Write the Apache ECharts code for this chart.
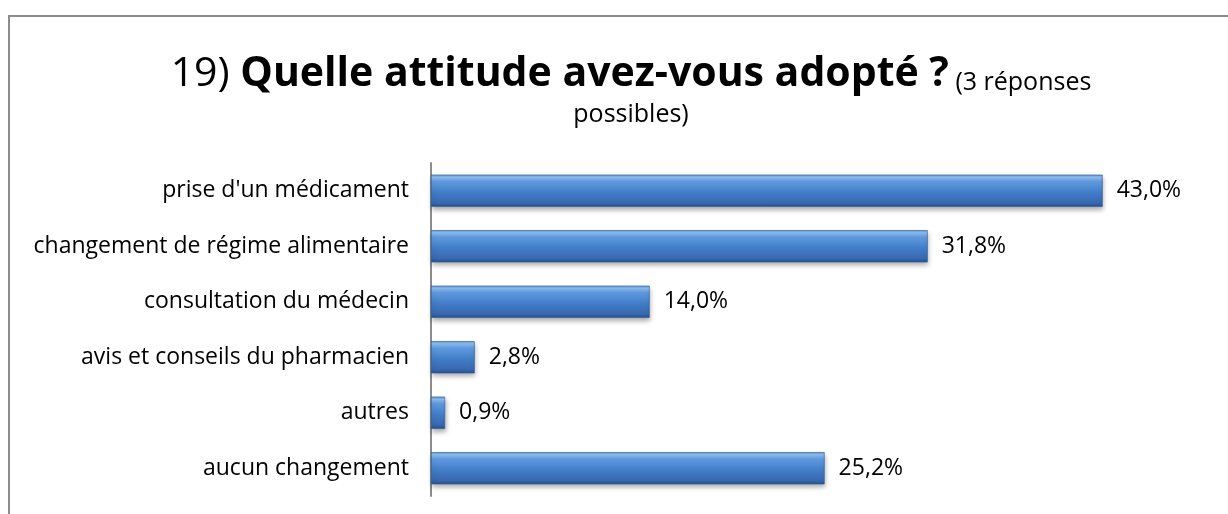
<!DOCTYPE html>
<html>
<head>
<meta charset="utf-8">
<script src="https://cdn.jsdelivr.net/npm/echarts@6/dist/echarts.min.js"></script>
<style>
  html, body { margin: 0; padding: 0; background: #ffffff; }
  #frame { position: absolute; left: 8px; top: 15px; width: 1240px; height: 520px;
           border-left: 2px solid #8c8c8c; border-top: 2px solid #8c8c8c; box-sizing: border-box; }
  #chart { position: absolute; left: 0; top: 0; width: 1228px; height: 514px; }
</style>
</head>
<body>
<div id="frame"></div>
<div id="chart"></div>
<script>
// Categories, listed bottom-to-top as the category axis draws them
const categories = [
  'aucun changement',
  'autres',
  'avis et conseils du pharmacien',
  'consultation du médecin',
  'changement de régime alimentaire',
  "prise d'un médicament"
];
// Share of respondents (%)
const values = [25.2, 0.9, 2.8, 14.0, 31.8, 43.0];

const FONT = '"Open Sans", Lato, sans-serif';

const chart = echarts.init(document.getElementById('chart'), null, { renderer: 'canvas' });

const barFill = new echarts.graphic.LinearGradient(0, 0, 0, 1, [
  { offset: 0.00, color: '#5a92d8' },
  { offset: 0.08, color: '#8fc0f2' },
  { offset: 0.22, color: '#5f9ae0' },
  { offset: 0.55, color: '#427ec8' },
  { offset: 0.88, color: '#3768b0' },
  { offset: 1.00, color: '#27508a' }
]);

chart.setOption({
  backgroundColor: 'transparent',
  animation: false,
  title: {
    left: 626,
    textAlign: 'center',
    top: 38,
    text: '{a|19) }{b|Quelle attitude avez-vous adopté ?}{c| (3 réponses}\n{c|possibles)}',
    textStyle: {
      fontWeight: 'normal',
      rich: {
        a: { fontFamily: FONT, fontSize: 41, fontWeight: 'normal', color: '#000', lineHeight: 52, verticalAlign: 'bottom' },
        b: { fontFamily: FONT, fontSize: 41, fontWeight: 'bold', color: '#000', lineHeight: 52, verticalAlign: 'bottom' },
        c: { fontFamily: FONT, fontSize: 25, fontWeight: 'normal', color: '#000', lineHeight: 32, verticalAlign: 'bottom' }
      }
    }
  },
  grid: { left: 431, top: 163, width: 781, height: 333, containLabel: false },
  xAxis: {
    type: 'value',
    min: 0,
    max: 50,
    show: false
  },
  yAxis: {
    type: 'category',
    data: categories,
    axisLine: { show: true, lineStyle: { color: '#8c8c8c', width: 2 } },
    axisTick: { show: false },
    axisLabel: { fontFamily: FONT, fontSize: 23, color: '#000', margin: 22 }
  },
  series: [{
    type: 'bar',
    data: values,
    barCategoryGap: '42%',
    itemStyle: {
      color: barFill,
      borderColor: '#2d5a96',
      borderWidth: 0.6,
      shadowColor: 'rgba(0,0,0,0.35)',
      shadowBlur: 5,
      shadowOffsetY: 3,
      shadowOffsetX: 1
    },
    label: {
      show: true,
      position: 'right',
      distance: 14,
      fontFamily: FONT,
      fontSize: 23,
      color: '#000',
      formatter: p => p.value.toFixed(1).replace('.', ',') + '%'
    }
  }]
});
</script>
</body>
</html>
